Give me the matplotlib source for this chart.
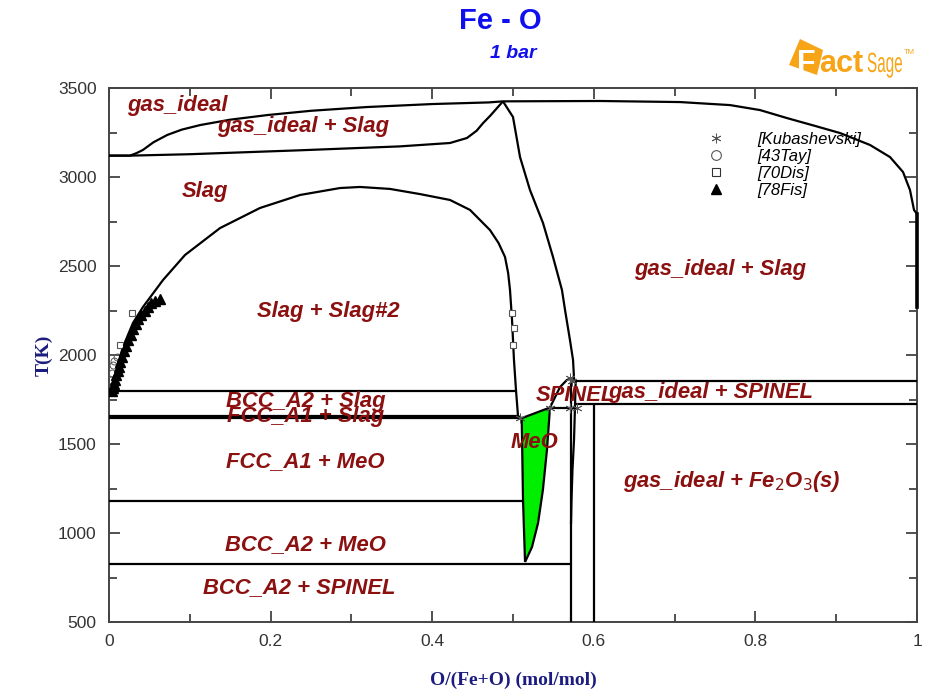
import matplotlib
matplotlib.use("Agg")
import matplotlib.pyplot as plt
from matplotlib.lines import Line2D
from matplotlib.patches import Polygon, PathPatch
from matplotlib.textpath import TextPath
from matplotlib.font_manager import FontProperties
from matplotlib.transforms import Affine2D
from matplotlib.ticker import MultipleLocator

# --- phase boundaries, x = O/(Fe+O), T in K ---
gas_dew_x = [0.0, 0.026, 0.034, 0.042, 0.055, 0.072, 0.090, 0.113, 0.150, 0.196,
             0.250, 0.319, 0.401, 0.470, 0.4876]
gas_dew_T = [3120, 3120, 3134, 3152, 3195, 3236, 3266, 3292, 3322, 3348,
             3372, 3393, 3410, 3419, 3425]

slag_boil_x = [0.0, 0.026, 0.10, 0.236, 0.360, 0.422, 0.443, 0.455, 0.463, 0.472,
               0.478, 0.4876]
slag_boil_T = [3120, 3120, 3128, 3150, 3172, 3191, 3219, 3260, 3303, 3345,
               3376, 3425]

gas_top_x = [0.4876, 0.6077, 0.7067, 0.7686, 0.8057, 0.8391, 0.8738, 0.9047,
             0.9418, 0.9666, 0.9827, 0.9913, 0.9963, 1.0]
gas_top_T = [3425, 3427, 3421, 3404, 3376, 3331, 3287, 3247,
             3180, 3112, 3028, 2927, 2815, 2792]
o2_edge_T = [2792, 2270]

gap_x = [0.0012, 0.005, 0.0099, 0.0173, 0.0297, 0.0421, 0.0668, 0.0941, 0.1374,
         0.1869, 0.2364, 0.2859, 0.3106, 0.3478, 0.3849, 0.4220, 0.4468, 0.4715,
         0.4820, 0.4901, 0.4940, 0.4963, 0.4988, 0.5012, 0.5037, 0.5062]
gap_T = [1803, 1820, 1933, 2045, 2180, 2270, 2421, 2562, 2713,
         2826, 2899, 2938, 2944, 2933, 2904, 2871, 2815, 2702,
         2630, 2551, 2460, 2365, 2197, 1972, 1803, 1657]

slag_right_x = [0.4876, 0.5000, 0.5087, 0.5210, 0.5371, 0.5495, 0.5606,
                0.5644, 0.5705, 0.5743, 0.5755]
slag_right_T = [3425, 3337, 3112, 2927, 2742, 2551, 2365, 2253, 2084, 1972, 1871]

spinel_liq_x = [0.5458, 0.5582, 0.5668, 0.5743]
spinel_liq_T = [1705, 1820, 1860, 1872]

spinel_right_x = [0.5776, 0.5767, 0.5755, 0.5736, 0.5724, 0.5718]
spinel_right_T = [1855, 1705, 1522, 1354, 1185, 1050]
magnetite_x = 0.5718
magnetite_T = [500, 1870]
hematite_x = 0.600
hematite_T = [500, 1725]

# invariant lines: (T, x_start, x_end)
invariants = [
    (1800, 0.0, 0.5037),
    (1660, 0.0, 0.5062),
    (1645, 0.0, 0.5108),
    (1178, 0.0, 0.5124),
    (826, 0.0, 0.5718),
    (1705, 0.5458, 0.5776),
    (1855, 0.5776, 1.0),
    (1725, 0.5776, 1.0),
]

meo_left_x = [0.5108, 0.5124, 0.5149]
meo_left_T = [1645, 1185, 837]
meo_right_x = [0.5235, 0.5310, 0.5370, 0.5420, 0.5458]
meo_right_T = [921, 1056, 1242, 1466, 1705]

# --- experimental points ---
kub_x = [0.5087, 0.5458, 0.5705, 0.5730, 0.5705, 0.5792]
kub_T = [1645, 1705, 1871, 1856, 1705, 1705]
tay_x = [0.004, 0.005, 0.006, 0.010, 0.003]
tay_T = [1900, 1945, 1965, 1990, 1860]
dis_x = [0.0285, 0.0136, 0.499, 0.501, 0.500]
dis_T = [2236, 2056, 2236, 2152, 2056]
fis_x = [0.004, 0.005, 0.006, 0.007, 0.009, 0.011, 0.012, 0.014, 0.016, 0.018, 0.021,
         0.024, 0.027, 0.030, 0.033, 0.036, 0.040, 0.044, 0.048, 0.052, 0.057, 0.063]
fis_T = [1795, 1815, 1835, 1860, 1885, 1910, 1935, 1960, 1990, 2020, 2050,
         2085, 2115, 2145, 2175, 2200, 2225, 2250, 2270, 2290, 2305, 2315]

# --- region labels: text, x, T ---
region_labels = [
    ("gas_ideal", 0.085, 3399),
    ("gas_ideal + Slag", 0.240, 3281),
    ("Slag", 0.119, 2921),
    ("gas_ideal + Slag", 0.756, 2478),
    ("Slag + Slag#2", 0.271, 2247),
    ("BCC_A2 + Slag", 0.243, 1736),
    ("FCC_A1 + Slag", 0.243, 1652),
    ("FCC_A1 + MeO", 0.243, 1399),
    ("BCC_A2 + MeO", 0.243, 933),
    ("BCC_A2 + SPINEL", 0.236, 691),
    ("MeO", 0.527, 1506),
    ("SPINEL", 0.577, 1775),
    ("gas_ideal + SPINEL", 0.744, 1787),
    ("gas_ideal + Fe$_2$O$_3$(s)", 0.771, 1287),
]

plt.rcParams['font.family'] = ['Liberation Sans', 'DejaVu Sans']

fig = plt.figure(figsize=(9.25, 6.92), dpi=100)
ax = fig.add_axes([109 / 925, 1 - 622 / 692, 808 / 925, 534 / 692])

line_kw = dict(color='black', lw=1.6, solid_capstyle='butt', zorder=3)

# wustite field
ax.fill(meo_left_x + meo_right_x, meo_left_T + meo_right_T,
        color='#00ee00', zorder=2, lw=0)
ax.plot(meo_left_x, meo_left_T, **line_kw)
ax.plot([meo_left_x[-1]] + meo_right_x, [meo_left_T[-1]] + meo_right_T, **line_kw)
ax.plot([meo_left_x[0], meo_right_x[-1]], [meo_left_T[0], meo_right_T[-1]], **line_kw)

ax.plot(gas_dew_x, gas_dew_T, **line_kw)
ax.plot(slag_boil_x, slag_boil_T, **line_kw)
ax.plot(gas_top_x, gas_top_T, **line_kw)
ax.plot([1.0, 1.0], o2_edge_T, color='black', lw=2.6, clip_on=False, zorder=4)
ax.plot(gap_x, gap_T, **line_kw)
ax.plot([gap_x[-1], meo_left_x[0]], [gap_T[-1], meo_left_T[0]], **line_kw)
ax.plot(slag_right_x, slag_right_T, **line_kw)
ax.plot(spinel_liq_x, spinel_liq_T, **line_kw)
ax.plot([spinel_liq_x[-1], spinel_right_x[0]], [spinel_liq_T[-1], spinel_right_T[0]], **line_kw)
ax.plot(spinel_right_x, spinel_right_T, **line_kw)
ax.plot([magnetite_x, magnetite_x], magnetite_T, **line_kw)
ax.plot([hematite_x, hematite_x], hematite_T, **line_kw)
for T, x0, x1 in invariants:
    ax.plot([x0, x1], [T, T], **line_kw)

# experimental data
ax.plot(kub_x, kub_T, ls='none', marker=(6, 2, 0), ms=7, mew=0.6, color='#555555', zorder=5)
ax.plot(tay_x, tay_T, ls='none', marker='o', ms=5, mfc='none', mec='#555555', mew=0.7, zorder=5)
ax.plot(dis_x, dis_T, ls='none', marker='s', ms=5, mfc='white', mec='#555555', mew=0.8, zorder=5)
ax.plot(fis_x, fis_T, ls='none', marker='^', ms=7, color='black', zorder=5)

for text, x, T in region_labels:
    ax.text(x, T, text, color='#8b1010', fontsize=15.8, fontweight='bold',
            style='italic', ha='center', va='center', zorder=6)

handles = [
    Line2D([], [], ls='none', marker=(6, 2, 0), ms=7, mew=0.6, color='#555555'),
    Line2D([], [], ls='none', marker='o', ms=7, mfc='none', mec='#555555', mew=0.8),
    Line2D([], [], ls='none', marker='s', ms=6, mfc='none', mec='#333333', mew=0.8),
    Line2D([], [], ls='none', marker='^', ms=7, color='black'),
]
ax.legend(handles, ['[Kubashevski]', '[43Tay]', '[70Dis]', '[78Fis]'],
          loc='upper left', bbox_to_anchor=(0.741, 0.918), frameon=False,
          borderpad=0, borderaxespad=0, handlelength=1.0, handletextpad=2.0,
          labelspacing=0.12, prop=dict(size=12, style='italic'))

ax.set_xlim(0, 1)
ax.set_ylim(500, 3500)
ax.xaxis.set_major_locator(MultipleLocator(0.2))
ax.xaxis.set_minor_locator(MultipleLocator(0.1))
ax.yaxis.set_major_locator(MultipleLocator(500))
ax.yaxis.set_minor_locator(MultipleLocator(250))
ax.xaxis.set_major_formatter(lambda v, p: f"{v:g}")
ax.tick_params(which='both', direction='in', top=True, right=True,
               width=1.2, color='#333333', labelsize=12.5, labelcolor='#333333', pad=9)
ax.tick_params(which='major', length=8)
ax.tick_params(which='minor', length=6)
for sp in ax.spines.values():
    sp.set_linewidth(1.4)
    sp.set_color('#444444')

label_kw = dict(family=['Liberation Serif', 'DejaVu Serif'], fontweight='bold',
                color='#1c1c80', fontsize=14)
ax.set_xlabel('O/(Fe+O) (mol/mol)', labelpad=16, **label_kw)
ax.set_ylabel('T(K)', labelpad=4, **label_kw)

fig.text(500 / 925, 1 - 21 / 692, 'Fe - O', color='#1010ee', fontsize=21,
         fontweight='bold', ha='center', va='center')
fig.text(513 / 925, 1 - 53 / 692, '1 bar', color='#1010ee', fontsize=14,
         fontweight='bold', style='italic', ha='center', va='center')

# FactSage logo (pixel positions, figure is drawn at 100 dpi)
orange = '#f7a416'
logo = Polygon([(800 / 925, 1 - 39 / 692), (823 / 925, 1 - 50 / 692),
                (817 / 925, 1 - 75 / 692), (789 / 925, 1 - 65 / 692)],
               closed=True, transform=fig.transFigure, color=orange, lw=0)
fig.patches.append(logo)
fig.text(797 / 925, 1 - 72 / 692, 'F', color='white', fontsize=22,
         fontweight='bold', ha='left', va='baseline')
fig.text(819 / 925, 1 - 72 / 692, 'act', color=orange, fontsize=22,
         fontweight='bold', ha='left', va='baseline')
sage_path = TextPath((0, 0), 'Sage', size=20, prop=FontProperties(family='Liberation Sans'))
sage_tf = Affine2D().scale(0.55 / 72, 1 / 72).translate(8.67, 6.20) + fig.dpi_scale_trans
fig.patches.append(PathPatch(sage_path, transform=sage_tf, color=orange, lw=0))
fig.text(904 / 925, 1 - 52 / 692, 'TM', color=orange, fontsize=5.5,
         ha='left', va='center')

fig.savefig('out.png', dpi=100)
